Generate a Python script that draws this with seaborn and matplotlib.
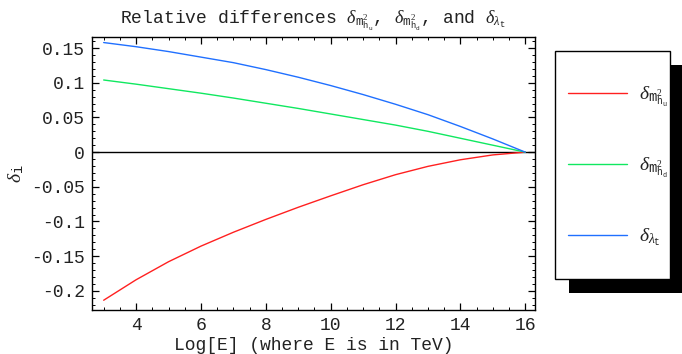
import numpy as np
import pandas as pd
import matplotlib
matplotlib.use("Agg")
import matplotlib.pyplot as plt
import seaborn as sns
from matplotlib.patches import Rectangle
from matplotlib.lines import Line2D
from matplotlib.ticker import MultipleLocator

# ---- data ----
log_e = [3, 4, 5, 6, 7, 8, 9, 10, 11, 12, 13, 14, 15, 16]
delta_mhu = [-0.2135, -0.184, -0.158, -0.1355, -0.1155, -0.097, -0.0795,
             -0.063, -0.047, -0.0325, -0.0205, -0.0110, -0.0040, 0.0]
delta_mhd = [0.104, 0.098, 0.0915, 0.085, 0.078, 0.0705, 0.063,
             0.055, 0.047, 0.039, 0.030, 0.020, 0.010, 0.0]
delta_lambda_t = [0.158, 0.152, 0.145, 0.137, 0.129, 0.119, 0.108,
                  0.096, 0.083, 0.069, 0.054, 0.037, 0.019, 0.0]

series_labels = [
    r"$\delta_{\mathtt{m}^{2}_{\mathtt{h}_{\mathtt{u}}}}$",
    r"$\delta_{\mathtt{m}^{2}_{\mathtt{h}_{\mathtt{d}}}}$",
    r"$\delta_{\lambda_{\mathtt{t}}}$",
]
series_colors = ["#ff2020", "#10e860", "#2070ff"]
x_ticks = [4, 6, 8, 10, 12, 14, 16]
y_ticks = [-0.2, -0.15, -0.1, -0.05, 0.0, 0.05, 0.1, 0.15]
y_tick_labels = ["-0.2", "-0.15", "-0.1", "-0.05", "0", "0.05", "0.1", "0.15"]
title_text = (r"Relative differences $\delta_{\mathtt{m}^{2}_{\mathtt{h}_{\mathtt{u}}}}$, "
              r"$\delta_{\mathtt{m}^{2}_{\mathtt{h}_{\mathtt{d}}}}$, and "
              r"$\delta_{\lambda_{\mathtt{t}}}$")
x_label = "Log[E] (where E is in TeV)"
y_label = r"$\delta_{\mathtt{i}}$"

df = pd.DataFrame({
    "log_e": log_e * 3,
    "delta": delta_mhu + delta_mhd + delta_lambda_t,
    "series": ([series_labels[0]] * len(log_e) + [series_labels[1]] * len(log_e)
               + [series_labels[2]] * len(log_e)),
})

sns.set_theme(style="ticks")
plt.rcParams.update({
    "font.family": ["Liberation Mono", "DejaVu Sans"],
    "mathtext.fontset": "custom",
    "mathtext.rm": "Liberation Serif",
    "mathtext.it": "Liberation Serif:italic",
    "mathtext.bf": "Liberation Serif:bold",
    "mathtext.tt": "Liberation Mono",
    "axes.edgecolor": "black",
    "axes.linewidth": 1.0,
})

W, H = 682, 354
fig = plt.figure(figsize=(W / 100, H / 100), dpi=100)
ax = fig.add_axes([92 / W, 1 - 310 / H, 443 / W, 273 / H])

sns.lineplot(data=df, x="log_e", y="delta", hue="series", hue_order=series_labels,
             palette=dict(zip(series_labels, series_colors)), ax=ax, legend=False,
             linewidth=1.0)
ax.axhline(0, color="black", lw=1.0, zorder=1)

ax.set_xlim(2.64, 16.3)
ax.set_ylim(-0.2276, 0.166)
ax.set_xticks(x_ticks)
ax.set_yticks(y_ticks, labels=y_tick_labels)
ax.xaxis.set_minor_locator(MultipleLocator(0.5))
ax.yaxis.set_minor_locator(MultipleLocator(0.01))
ax.tick_params(which="both", direction="in", top=True, right=True, color="black",
               labelcolor="#222222", labelsize=13)
ax.tick_params(which="major", length=5, width=0.9, pad=5)
ax.tick_params(which="minor", length=2.5, width=0.7)
ax.set_xlabel(x_label, fontsize=13, color="#222222", labelpad=2)
ax.set_ylabel(y_label, fontsize=14, color="#222222", labelpad=4)
for s in ax.spines.values():
    s.set_color("black")
    s.set_linewidth(1.0)

fig.text(313 / W, 1 - 24 / H, title_text, ha="center", va="baseline", fontsize=13,
         color="#222222")

# legend box with shadow
fig.add_artist(Rectangle((569 / W, 1 - 293 / H), (700 - 569) / W, (293 - 65) / H,
                         transform=fig.transFigure, facecolor="black",
                         edgecolor="none", zorder=1))
fig.add_artist(Rectangle((555 / W, 1 - 279 / H), 115 / W, 228 / H,
                         transform=fig.transFigure, facecolor="white",
                         edgecolor="black", lw=1.0, zorder=2))
handles = [Line2D([], [], color=c, lw=1.0) for c in series_colors]
leg = fig.legend(handles, series_labels, loc="upper left",
                 bbox_to_anchor=(568 / W, 1 - 85 / H), frameon=False,
                 fontsize=14, handlelength=3.05, handletextpad=0.6,
                 labelspacing=2.4, borderpad=0, borderaxespad=0)
leg.set_zorder(3)
for t in leg.get_texts():
    t.set_color("#222222")

fig.savefig("out.png", dpi=100)
